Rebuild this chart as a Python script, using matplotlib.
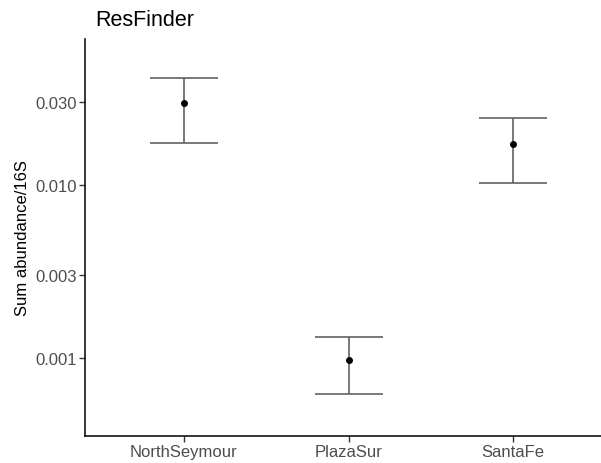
import numpy as np
import matplotlib.pyplot as plt
from matplotlib.ticker import FixedLocator, NullLocator

# ==========================================
# DATA
# ==========================================

sites = ["NorthSeymour", "PlazaSur", "SantaFe"]
mean_abund = [0.0294, 0.00098, 0.0172]
lower = [0.0174, 0.000625, 0.0102]
upper = [0.0412, 0.00133, 0.0242]

y_ticks = [0.001, 0.003, 0.010, 0.030]
y_tick_labels = ["0.001", "0.003", "0.010", "0.030"]

# ==========================================
# PLOT
# ==========================================

plt.rcParams["font.family"] = ["Liberation Sans", "DejaVu Sans"]

fig = plt.figure(figsize=(6.01, 4.64), dpi=100)
ax = fig.add_axes([0.1414, 0.0582, 0.877, 0.8556])

x = np.arange(1, len(sites) + 1)
mean_abund = np.array(mean_abund)
yerr = [mean_abund - np.array(lower), np.array(upper) - mean_abund]

ax.errorbar(
    x,
    mean_abund,
    yerr=yerr,
    fmt="none",
    ecolor="#555555",
    elinewidth=1.1,
    capsize=24.5,
    capthick=1.1
)

ax.scatter(x, mean_abund, s=16, color="black", zorder=3)

ax.set_yscale("log")
ax.set_ylim(0.000357, 0.0689)
ax.set_xlim(0.4, 3.6)

ax.yaxis.set_major_locator(FixedLocator(y_ticks))
ax.yaxis.set_minor_locator(NullLocator())
ax.set_yticklabels(y_tick_labels)

ax.set_xticks(x)
ax.set_xticklabels(sites)

for side in ["top", "right"]:
    ax.spines[side].set_visible(False)
for side in ["left", "bottom"]:
    ax.spines[side].set_linewidth(1.1)
    ax.spines[side].set_color("black")

ax.tick_params(
    axis="both",
    length=4,
    width=1.0,
    color="#333333",
    labelsize=12,
    labelcolor="#4D4D4D",
    pad=2
)

ax.set_ylabel("Sum abundance/16S", fontsize=12, color="black", labelpad=4)
ax.set_title("ResFinder", fontsize=15.5, loc="left", pad=10, x=0.02)

fig.savefig("out.png", dpi=100)
plt.close()
